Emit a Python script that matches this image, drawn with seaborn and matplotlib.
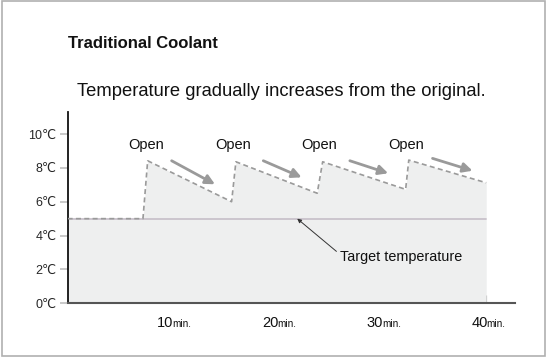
import matplotlib
matplotlib.use("Agg")
import matplotlib.pyplot as plt
import matplotlib.patches as mpatches
import seaborn as sns

# Chart data
time_min = [0, 7.2, 7.65, 15.67, 16.08, 23.85, 24.37, 32.3, 32.6, 40]
temp_c = [5, 5, 8.42, 6.0, 8.36, 6.5, 8.36, 6.73, 8.46, 7.12]
target_temp = 5
open_x = [7.55, 15.77, 24.0, 32.3]
open_y = 9.35
arrow_start_x = [9.94, 18.7, 26.97, 34.87]
arrow_start_y = [8.42, 8.42, 8.42, 8.56]
arrow_end_x = [14.08, 22.36, 30.63, 38.69]
arrow_end_y = [7.03, 7.44, 7.68, 7.83]
x_ticks = [10, 20, 30, 40]
y_ticks = [0, 2, 4, 6, 8, 10]
y_tick_labels = [f"{v}\u2103" for v in y_ticks]

sns.set_style("white")
plt.rcParams['font.family'] = ['Liberation Sans', 'DejaVu Sans']

fig = plt.figure(figsize=(5.47, 3.57), dpi=100)
ax = fig.add_axes([0.1236, 0.1504, 0.8179, 0.5359])
ax.set_xlim(0, 42.75)
ax.set_ylim(0, 11.3)

# shaded area under the temperature curve
ax.fill_between(time_min, 0, temp_c, color='#eeefef', lw=0, zorder=1)
# target temperature line
ax.plot([0, 40], [target_temp, target_temp], color='#c9c2cb', lw=1.3, zorder=2)
# temperature curve
sns.lineplot(x=time_min, y=temp_c, ax=ax, estimator=None, sort=False,
             color='#9a9a9a', linestyle=(0, (3, 2)), lw=1.2, zorder=3)

for ox in open_x:
    ax.text(ox, open_y, "Open", ha='center', va='center', fontsize=10.5, color='#111111')
for sx, sy, ex, ey in zip(arrow_start_x, arrow_start_y, arrow_end_x, arrow_end_y):
    ax.annotate("", xy=(ex, ey), xytext=(sx, sy),
                arrowprops=dict(arrowstyle='-|>', color='#9a9a9a', lw=2,
                                mutation_scale=14, shrinkA=0, shrinkB=0))

ax.annotate("Target temperature", xy=(21.94, 5.0), xytext=(26.0, 2.74),
            ha='left', va='center', fontsize=10.4, color='#111111',
            arrowprops=dict(arrowstyle='-|>', color='#333333', lw=0.7,
                            mutation_scale=6, shrinkA=0, shrinkB=0,
                            relpos=(0, 0.7)))

# axes styling
sns.despine(ax=ax)
ax.spines['left'].set_color('#111111')
ax.spines['left'].set_linewidth(1.3)
ax.spines['bottom'].set_color('#555555')
ax.spines['bottom'].set_linewidth(1.5)

ax.set_yticks(y_ticks)
ax.set_yticklabels(y_tick_labels)
ax.tick_params(axis='y', direction='out', length=5.5, width=1.2, color='#c0c0c0',
               labelsize=9, pad=2.5, left=True)
ax.set_xticks(x_ticks)
ax.set_xticklabels([])
ax.tick_params(axis='x', direction='in', length=6, width=0.8, color='#888888',
               bottom=True)
for t in x_ticks:
    ax.annotate(str(t), xy=(t, 0), xycoords=('data', 'axes fraction'),
                xytext=(1.0, -14), textcoords='offset points',
                ha='right', va='center', fontsize=10.5, color='#111111')
    ax.annotate("min.", xy=(t, 0), xycoords=('data', 'axes fraction'),
                xytext=(0.3, -14.6), textcoords='offset points',
                ha='left', va='center', fontsize=7.2, color='#111111')

fig.text(68 / 547, 1 - 43 / 357, "Traditional Coolant", fontsize=12,
         fontweight='bold', ha='left', va='center', color='#111111')
fig.text(281.5 / 547, 1 - 91 / 357,
         "Temperature gradually increases from the original.",
         fontsize=13.2, ha='center', va='center', color='#111111')

# outer frame
fig.patches.append(mpatches.Rectangle((0.003, 0.004), 0.994, 0.992,
                                      transform=fig.transFigure, fill=False,
                                      edgecolor='#b0b0b0', lw=1.2))

fig.savefig("out.png", dpi=100)
